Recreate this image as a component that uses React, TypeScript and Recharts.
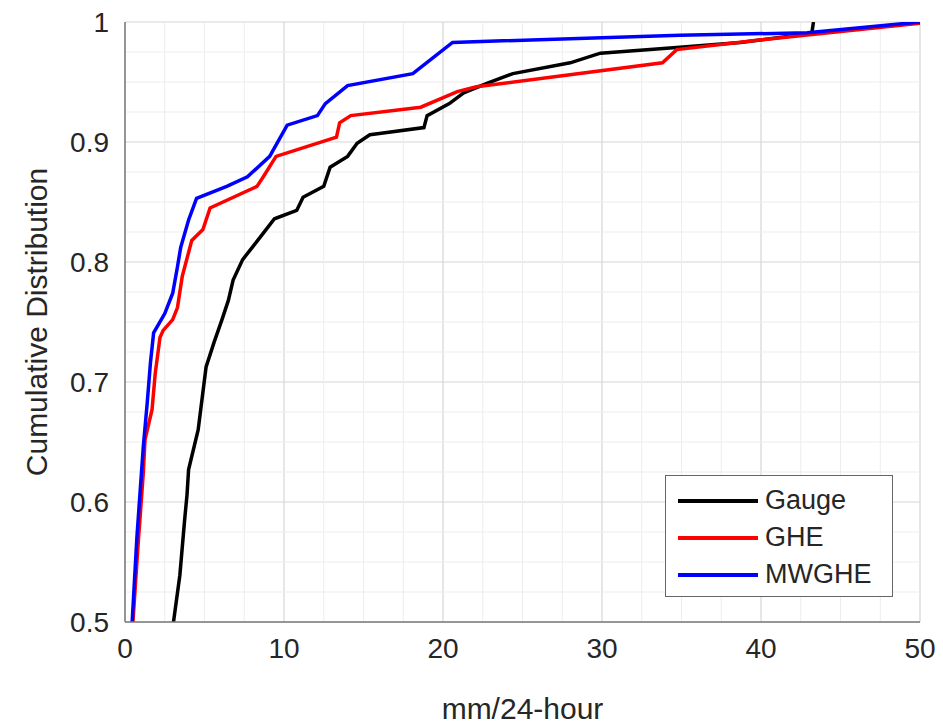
import { CartesianGrid, Line, LineChart, ReferenceLine, XAxis, YAxis } from 'recharts'

// [mm/24-hour, cumulative probability]
const gauge: [number, number][] = [
    [3.05, 0.5], [3.45, 0.539], [3.75, 0.585], [3.9, 0.606], [4.0, 0.627], [4.6, 0.66],
    [5.1, 0.7125], [5.6, 0.733], [6.1, 0.752], [6.5, 0.768], [6.8, 0.785], [7.4, 0.802],
    [8.7, 0.824], [9.4, 0.836], [10.8, 0.843], [11.2, 0.854], [12.5, 0.863], [12.9, 0.879],
    [14.0, 0.888], [14.6, 0.899], [15.4, 0.906], [16.0, 0.907], [18.8, 0.912], [19.0, 0.922],
    [20.4, 0.932], [21.3, 0.941], [22.8, 0.949], [24.4, 0.957], [28.0, 0.966], [29.9, 0.974],
    [34.9, 0.979], [38.7, 0.983], [42.9, 0.99], [43.2, 0.991], [43.3, 1.0]
]

const ghe: [number, number][] = [
    [0.5, 0.5], [0.8, 0.56], [1.15, 0.624], [1.26, 0.652], [1.7, 0.677], [1.9, 0.707],
    [2.2, 0.737], [2.4, 0.743], [3.0, 0.752], [3.3, 0.762], [3.6, 0.788], [4.2, 0.818],
    [4.9, 0.827], [5.1, 0.835], [5.35, 0.845], [8.3, 0.863], [8.7, 0.871], [9.5, 0.888],
    [13.3, 0.904], [13.5, 0.916], [14.2, 0.922], [18.6, 0.929], [20.9, 0.942], [22.1, 0.946],
    [33.8, 0.966], [34.7, 0.977], [39.9, 0.985], [50, 0.999]
]

const mwghe: [number, number][] = [
    [0.45, 0.5], [0.75, 0.571], [1.15, 0.646], [1.4, 0.683], [1.6, 0.716], [1.8, 0.741],
    [2.5, 0.757], [3.0, 0.774], [3.3, 0.796], [3.5, 0.812], [4.0, 0.835], [4.5, 0.853],
    [6.4, 0.863], [7.7, 0.871], [9.1, 0.888], [10.2, 0.914], [12.1, 0.922], [12.6, 0.932],
    [14.0, 0.947], [18.1, 0.957], [20.6, 0.983], [34.9, 0.989], [42.9, 0.991], [50, 1.0]
]

const xTicks = [0, 10, 20, 30, 40, 50]
const yTicks = [0.5, 0.6, 0.7, 0.8, 0.9, 1]
const xMinor = [2.5, 5, 7.5, 12.5, 15, 17.5, 22.5, 25, 27.5, 32.5, 35, 37.5, 42.5, 45, 47.5]
const yMinor = [0.525, 0.55, 0.575, 0.625, 0.65, 0.675, 0.725, 0.75, 0.775, 0.825, 0.85, 0.875, 0.925, 0.95, 0.975]

const series = [
    { name: 'Gauge', color: '#000000', points: gauge },
    { name: 'GHE', color: '#ff0000', points: ghe },
    { name: 'MWGHE', color: '#0000ff', points: mwghe }
]

const font = '"Liberation Sans", Arial, sans-serif'
const textColor = '#262626'

// legend drawn as an overlay so it doesn't eat plot space
const LegendBox = () => (
    <div style={{
        position: 'absolute', left: 665, top: 475,
        width: 228, height: 122, boxSizing: 'border-box', background: '#fff',
        border: '1px solid #666', padding: '6px 0 0 12px', fontFamily: font
    }}>
        {series.map(s => (
            <div key={s.name} style={{ display: 'flex', alignItems: 'center', height: 37 }}>
                <div style={{ width: 80, height: 4, background: s.color, marginRight: 7 }} />
                <span style={{ fontSize: 27, color: textColor, lineHeight: '27px' }}>{s.name}</span>
            </div>
        ))}
    </div>
)

export default function App() {
    return (
        <div style={{ position: 'absolute', left: 0, top: 0, width: 943, height: 727, background: '#fff' }}>
            <LineChart width={943} height={727} margin={{ top: 22, right: 23, bottom: 0, left: 0 }}>
                {xMinor.map(v => (
                    <ReferenceLine key={'x' + v} x={v} stroke="#ededed" strokeWidth={1} />
                ))}
                {yMinor.map(v => (
                    <ReferenceLine key={'y' + v} y={v} stroke="#ededed" strokeWidth={1} />
                ))}
                <CartesianGrid stroke="#d6d6d6" strokeWidth={1.2} />
                <XAxis type="number" dataKey="x" domain={[0, 50]} ticks={xTicks} allowDataOverflow
                       height={105} tickLine={false} axisLine={{ stroke: '#7a7a7a', strokeWidth: 1.5 }}
                       tick={{ fontSize: 28, fill: textColor, fontFamily: font }} tickMargin={10}
                       label={{ value: 'mm/24-hour', position: 'insideBottom', offset: 8,
                           style: { fontSize: 30, fill: textColor, fontFamily: font } }} />
                <YAxis type="number" domain={[0.5, 1]} ticks={yTicks} allowDataOverflow
                       width={125} tickLine={false} axisLine={{ stroke: '#7a7a7a', strokeWidth: 1.5 }}
                       tick={{ fontSize: 28, fill: textColor, fontFamily: font }} tickMargin={10}
                       tickFormatter={(v: number) => (v === 1 ? '1' : v.toFixed(1))}
                       label={{ value: 'Cumulative Distribution', angle: -90, position: 'insideLeft', offset: 36,
                           style: { fontSize: 30, fill: textColor, fontFamily: font, textAnchor: 'middle' } }} />
                {series.map(s => (
                    <Line key={s.name} name={s.name} data={s.points.map(([x, y]) => ({ x, y }))}
                          dataKey="y" type="linear" stroke={s.color} strokeWidth={3.5}
                          dot={false} isAnimationActive={false} />
                ))}
            </LineChart>
            <LegendBox />
        </div>
    )
}
